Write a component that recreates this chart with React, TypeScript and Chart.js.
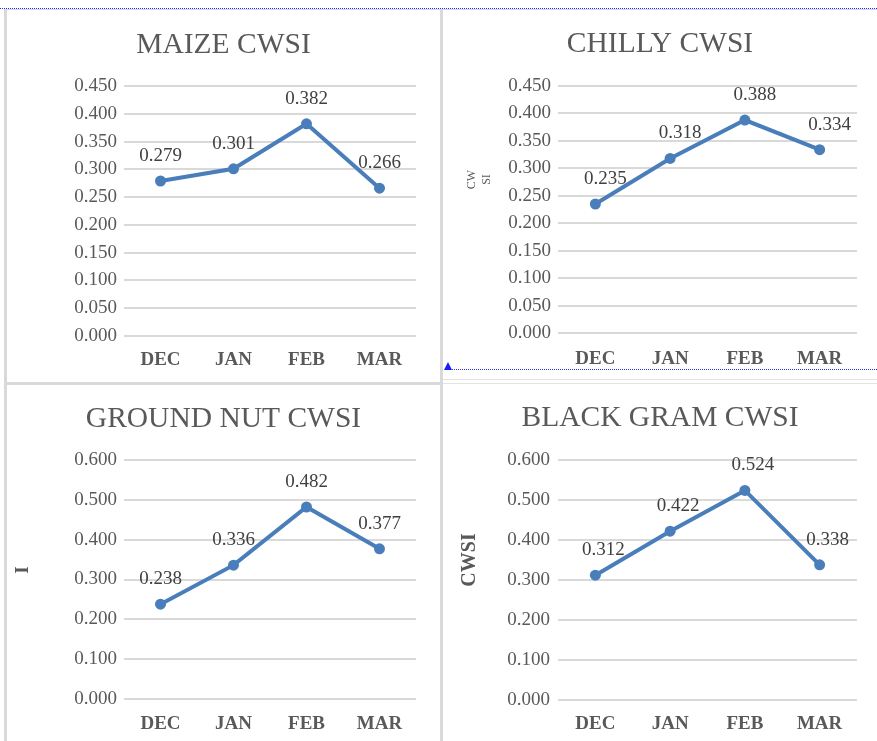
import React, { useEffect, useRef } from "react";
import { Chart, registerables } from "chart.js";

Chart.register(...registerables);

// ---------- data ----------
const months = ["DEC", "JAN", "FEB", "MAR"];
const maizeCwsi = [0.279, 0.301, 0.382, 0.266];
const chillyCwsi = [0.235, 0.318, 0.388, 0.334];
const groundNutCwsi = [0.238, 0.336, 0.482, 0.377];
const blackGramCwsi = [0.312, 0.422, 0.524, 0.338];
const smallAxisMax = 0.45;
const smallAxisStep = 0.05;
const largeAxisMax = 0.6;
const largeAxisStep = 0.1;

// ---------- styling ----------
const SERIF = '"Liberation Serif", "Times New Roman", serif';
const TEXT_GREY = "#595959";
const LABEL_GREY = "#404040";
const LINE_BLUE = "#4a7ebb";
const GRID_GREY = "#d9d9d9";
const TITLE_SIZE = 29.5;
const TICK_SIZE = 19;

type Panel = {
  title: string;
  values: number[];
  max: number;
  step: number;
  box: { left: number; top: number; width: number; height: number };
  area: { left: number; top: number; right: number; bottom: number };
  titleY: number;
  catY: number;
  tickPad: number;
  labelDx: number;
  axisTitle?: { text: string | string[]; size: number; bold: boolean; x: number };
};

const panels: Panel[] = [
  {
    title: "MAIZE CWSI",
    values: maizeCwsi,
    max: smallAxisMax,
    step: smallAxisStep,
    box: { left: 7, top: 10, width: 433, height: 372 },
    area: { left: 124, top: 86, right: 416, bottom: 336 },
    titleY: 45,
    catY: 358,
    tickPad: 7,
    labelDx: 0,
  },
  {
    title: "CHILLY CWSI",
    values: chillyCwsi,
    max: smallAxisMax,
    step: smallAxisStep,
    box: { left: 443, top: 10, width: 434, height: 359 },
    area: { left: 558, top: 86, right: 857, bottom: 333 },
    titleY: 44.5,
    catY: 357,
    tickPad: 7,
    labelDx: 10,
    axisTitle: {
      text: ["                    CW", "                    SI"],
      size: 12,
      bold: false,
      x: 472,
    },
  },
  {
    title: "GROUND NUT CWSI",
    values: groundNutCwsi,
    max: largeAxisMax,
    step: largeAxisStep,
    box: { left: 7, top: 385, width: 433, height: 356 },
    area: { left: 124, top: 460, right: 416, bottom: 699 },
    titleY: 419.5,
    catY: 722,
    tickPad: 7,
    labelDx: 0,
    axisTitle: { text: "    I", size: 19, bold: true, x: 23 },
  },
  {
    title: "BLACK GRAM CWSI",
    values: blackGramCwsi,
    max: largeAxisMax,
    step: largeAxisStep,
    box: { left: 443, top: 385, width: 434, height: 356 },
    area: { left: 558, top: 460, right: 857, bottom: 700 },
    titleY: 418.5,
    catY: 722,
    tickPad: 8,
    labelDx: 8,
    axisTitle: { text: "        CWSI", size: 20, bold: true, x: 470 },
  },
];

const valueLabels = {
  id: "valueLabels",
  afterDatasetsDraw(chart: any, _args: any, opts: any) {
    const ctx = chart.ctx;
    const meta = chart.getDatasetMeta(0);
    const data = chart.data.datasets[0].data as number[];
    ctx.save();
    ctx.font = `${TICK_SIZE}px ${SERIF}`;
    ctx.fillStyle = LABEL_GREY;
    ctx.textAlign = "center";
    ctx.textBaseline = "middle";
    meta.data.forEach((pt: any, i: number) => {
      ctx.fillText(Number(data[i]).toFixed(3), pt.x + (opts.dx || 0), pt.y - 25);
    });
    ctx.restore();
  },
};

function PanelChart({ p }: { p: Panel }) {
  const ref = useRef<HTMLCanvasElement | null>(null);
  useEffect(() => {
    if (!ref.current) return;
    const lh = TITLE_SIZE * 1.2;
    const padTop = p.titleY - p.box.top - lh / 2;
    const padBottom = p.area.top - p.box.top - padTop - lh;
    const tickLh = TICK_SIZE * 1.2;
    const at = p.axisTitle;
    const atLh = at ? at.size * 1.2 : 0;
    const rightGap = p.box.left + p.box.width - p.area.right;
    const chart = new Chart(ref.current, {
      type: "line",
      data: {
        labels: months,
        datasets: [
          {
            data: p.values,
            borderColor: LINE_BLUE,
            backgroundColor: LINE_BLUE,
            borderWidth: 4,
            pointRadius: 5.5,
            pointBackgroundColor: LINE_BLUE,
            pointBorderWidth: 0,
            tension: 0,
            fill: false,
            yAxisID: "y",
          },
        ],
      },
      options: {
        responsive: false,
        animation: false,
        devicePixelRatio: 1,
        layout: { padding: 0 },
        plugins: {
          legend: { display: false },
          tooltip: { enabled: false },
          title: {
            display: true,
            text: p.title,
            color: TEXT_GREY,
            font: { family: SERIF, size: TITLE_SIZE, weight: "normal" },
            padding: { top: padTop, bottom: padBottom },
          },
          valueLabels: { dx: p.labelDx },
        } as any,
        scales: {
          x: {
            type: "category",
            offset: true,
            grid: { display: false },
            border: { display: false },
            ticks: {
              color: TEXT_GREY,
              font: { family: SERIF, size: TICK_SIZE, weight: "bold" },
              padding: p.catY - p.area.bottom - tickLh / 2 - 6,
              maxRotation: 0,
              autoSkip: false,
            },
            afterFit: (s: any) => {
              s.height = p.box.top + p.box.height - p.area.bottom;
            },
          },
          y: {
            min: 0,
            max: p.max,
            ticks: {
              stepSize: p.step,
              color: TEXT_GREY,
              font: { family: SERIF, size: TICK_SIZE },
              padding: p.tickPad,
              callback: (v: any) => Number(v).toFixed(3),
            },
            grid: { color: GRID_GREY, lineWidth: 2, drawTicks: false },
            border: { display: false },
            title: at
              ? {
                  display: true,
                  text: at.text,
                  color: TEXT_GREY,
                  font: { family: SERIF, size: at.size, weight: at.bold ? "bold" : "normal" },
                  padding: { top: at.x - p.box.left - atLh / 2, bottom: 0 },
                }
              : { display: false },
            afterFit: (s: any) => {
              s.width = p.area.left - p.box.left;
            },
          },
          yGap: {
            type: "linear",
            position: "right",
            display: true,
            min: 0,
            max: 1,
            grid: { display: false, drawTicks: false },
            border: { display: false },
            ticks: { display: false },
            afterFit: (s: any) => {
              s.width = rightGap;
            },
          },
        },
      } as any,
      plugins: [valueLabels as any],
    });
    return () => chart.destroy();
  }, [p]);
  return (
    <canvas
      ref={ref}
      width={p.box.width}
      height={p.box.height}
      style={{
        position: "absolute",
        left: p.box.left,
        top: p.box.top,
        width: p.box.width,
        height: p.box.height,
        display: "block",
      }}
    />
  );
}

const line = (s: React.CSSProperties): React.CSSProperties => ({ position: "absolute", ...s });

export default function App() {
  return (
    <div
      style={{
        position: "absolute",
        left: 0,
        top: 0,
        width: 877,
        height: 741,
        background: "#ffffff",
        overflow: "hidden",
      }}
    >
      {panels.map((p) => (
        <PanelChart key={p.title} p={p} />
      ))}
      {/* table borders */}
      <div style={line({ left: 0, top: 8, width: 877, height: 0, borderTop: "1px dotted #2b2bff" })} />
      <div style={line({ left: 4, top: 9, width: 873, height: 1, background: "#cfd6ee" })} />
      <div style={line({ left: 4, top: 10, width: 3, height: 731, background: GRID_GREY })} />
      <div style={line({ left: 440, top: 10, width: 3, height: 731, background: GRID_GREY })} />
      <div style={line({ left: 4, top: 382, width: 436, height: 3, background: GRID_GREY })} />
      <div style={line({ left: 443, top: 379, width: 434, height: 1, background: "#e3e3e3" })} />
      <div style={line({ left: 443, top: 383, width: 434, height: 1, background: "#e3e3e3" })} />
      <div style={line({ left: 452, top: 369, width: 425, height: 0, borderTop: "1px dotted #2b2bff" })} />
      <div
        style={line({
          left: 444,
          top: 362,
          width: 0,
          height: 0,
          borderLeft: "4.5px solid transparent",
          borderRight: "4.5px solid transparent",
          borderBottom: "8px solid #1a1aff",
        })}
      />
    </div>
  );
}
